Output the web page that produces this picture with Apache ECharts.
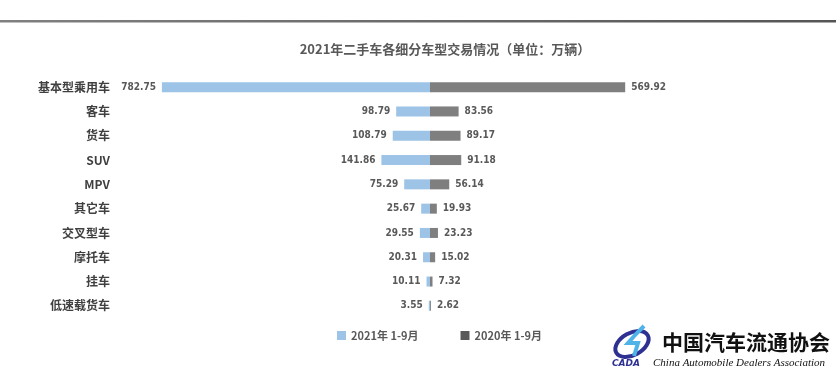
<!DOCTYPE html>
<html><head><meta charset="utf-8">
<script src="https://cdn.jsdelivr.net/npm/echarts@6/dist/echarts.min.js"></script>
<style>html,body{margin:0;padding:0;background:#fff}#c{width:836px;height:372px}</style>
</head><body><div id="c"></div>
<script>
const categories = ['基本型乘用车','客车','货车','SUV','MPV','其它车','交叉型车','摩托车','挂车','低速载货车'];
const values2021 = [782.75, 98.79, 108.79, 141.86, 75.29, 25.67, 29.55, 20.31, 10.11, 3.55];
const values2020 = [569.92, 83.56, 89.17, 91.18, 56.14, 19.93, 23.23, 15.02, 7.32, 2.62];
const seriesNames = ['2021年 1-9月', '2020年 1-9月'];
const titleText = '2021年二手车各细分车型交易情况（单位：万辆）';

const chart = echarts.init(document.getElementById('c'), null, {renderer: 'canvas'});
const labelFont = {fontFamily: 'DejaVu Sans Condensed', fontWeight: 'bold', fontSize: 10, color: '#595959'};
chart.setOption({
  backgroundColor: '#fff',
  animation: false,
  title: {
    text: titleText, left: 440, top: 38, textAlign: 'center',
    textStyle: {fontFamily: '"Noto Sans CJK SC"', fontSize: 13, fontWeight: 'bold', color: '#595959'}
  },
  legend: {
    top: 325, left: 332, itemWidth: 9, itemHeight: 9, itemGap: 42,
    icon: 'rect',
    textStyle: {fontFamily: '"Noto Sans CJK SC"', fontSize: 11, fontWeight: 'bold', color: '#595959'},
    data: [
      {name: seriesNames[0], itemStyle: {color: '#9DC3E6'}},
      {name: seriesNames[1], itemStyle: {color: '#595959'}}
    ]
  },
  grid: {left: 156, right: 132, top: 75, height: 243, containLabel: false},
  xAxis: {
    type: 'value', min: -800, max: 800, show: false
  },
  yAxis: {
    type: 'category', data: categories, inverse: true,
    axisLine: {show: false}, axisTick: {show: false},
    axisLabel: {margin: 46, fontFamily: '"Noto Sans CJK SC"', fontSize: 12, fontWeight: 'bold', color: '#404040'}
  },
  series: [
    {
      name: seriesNames[0], type: 'bar', barWidth: 10, barGap: '-100%',
      itemStyle: {color: '#9DC3E6'},
      data: values2021.map(v => -v),
      label: Object.assign({show: true, position: 'left', distance: 6,
        formatter: p => Math.abs(p.value).toFixed(2)}, labelFont),
      markLine: {
        silent: true, symbol: 'none', label: {show: false}, z: 10,
        lineStyle: {color: '#D9D9D9', width: 1.5, type: 'solid'},
        data: [[{coord: [0, -0.5]}, {coord: [0, 9.5]}]]
      }
    },
    {
      name: seriesNames[1], type: 'bar', barWidth: 10, barGap: '-100%',
      itemStyle: {color: '#7F7F7F'},
      data: values2020,
      label: Object.assign({show: true, position: 'right', distance: 6,
        formatter: p => p.value.toFixed(2)}, labelFont)
    }
  ],
  graphic: [
    {type: 'rect', shape: {x: 0, y: 20, width: 836, height: 2.5}, silent: true,
      style: {fill: new echarts.graphic.LinearGradient(0, 0, 1, 0, [{offset: 0, color: '#808080'}, {offset: 1, color: '#555555'}])}},
    {type: 'ellipse', shape: {cx: 632, cy: 344, rx: 18, ry: 11}, rotation: 0.5, originX: 632, originY: 344,
      style: {fill: 'none', stroke: '#2E3192', lineWidth: 4}},
    {type: 'polyline', shape: {points: [[644, 326], [636, 334], [628, 343], [638, 343], [634, 356]]},
      style: {stroke: '#4FB3E8', lineWidth: 4, fill: 'none'}},
    {type: 'text', left: 612, top: 359, style: {text: 'CADA', font: 'italic bold 9px "DejaVu Sans"', fill: '#2E3192'}},
    {type: 'text', left: 662, top: 332, style: {text: '中国汽车流通协会', font: 'bold 21px "Noto Sans CJK SC"', fill: '#111'}},
    {type: 'text', left: 653, top: 358, style: {text: 'China Automobile Dealers Association', font: 'italic 11px "Liberation Serif"', fill: '#111'}}
  ]
});
</script></body></html>
